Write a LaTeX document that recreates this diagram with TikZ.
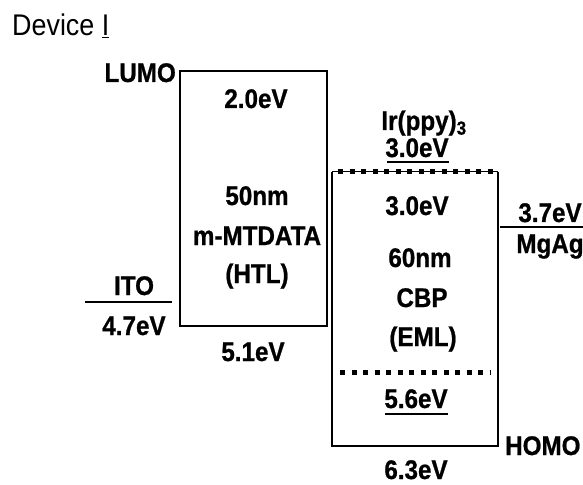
\documentclass[tikz,border=0pt]{standalone}
\usepackage{fontspec}
\setmainfont[FakeStretch=0.9, BoldFeatures={FakeBold=0.8}]{Liberation Sans}
\usepackage{tikz}

\tikzset{
  lbl/.style={font=\fontsize{27}{27}\selectfont\bfseries, inner sep=0pt, anchor=base},
  level/.style={line width=1.8bp},
  sqdots/.style={line width=5bp, dash pattern=on 5bp off 6.5bp}
}

\begin{document}
\begin{tikzpicture}[x=1bp,y=-1bp]
\useasboundingbox (0,0) rectangle (583,485);

% title
\node[inner sep=0pt, anchor=base west, font=\fontsize{30}{30}\selectfont] (title) at (12,36) {Device \underline{I}};

% ITO
\draw[level] (85,302) -- (172,302);
\node[lbl] (ito) at (134,295) {ITO};
\node[lbl] (ito-wf) at (134,335) {4.7eV};

% HTL box
\draw[level] (180,71) rectangle (327,326);
\node[lbl, anchor=base east] (lumo) at (176,82) {LUMO};
\node[lbl] (htl-lumo) at (256,108) {2.0eV};
\node[lbl] (htl-d) at (257,205) {50nm};
\node[lbl] (htl-name) at (257,245) {m-MTDATA};
\node[lbl] (htl-tag) at (257,283) {(HTL)};
\node[lbl] (htl-homo) at (253,361) {5.1eV};

% EML box
\draw[level] (332,172) -- (332,446) -- (498,446) -- (498,172);
\draw[line width=1bp] (332,172) -- (498,172);
\draw[sqdots] (338,172) -- (498,172);
\draw[sqdots] (340,372) -- (490,372);
\node[lbl] (dop) at (424,130) {Ir(ppy)\textsubscript{3}};
\node[lbl] (dop-lumo) at (417,157) {3.0eV};
\draw[level] (387,162) -- (449,162);
\node[lbl] (eml-lumo) at (417,215) {3.0eV};
\node[lbl] (eml-d) at (420,267) {60nm};
\node[lbl] (eml-name) at (422,307) {CBP};
\node[lbl] (eml-tag) at (423,346) {(EML)};
\node[lbl] (dop-homo) at (416,408) {5.6eV};
\draw[level] (385,414) -- (448,414);
\node[lbl] (eml-homo) at (416,479) {6.3eV};
\node[lbl, anchor=base west] (homo) at (505,455) {HOMO};

% MgAg
\draw[level] (500,227) -- (583,227);
\node[lbl] (cat-wf) at (550,222) {3.7eV};
\node[lbl] (cat) at (550,253) {MgAg};

\end{tikzpicture}
\end{document}
